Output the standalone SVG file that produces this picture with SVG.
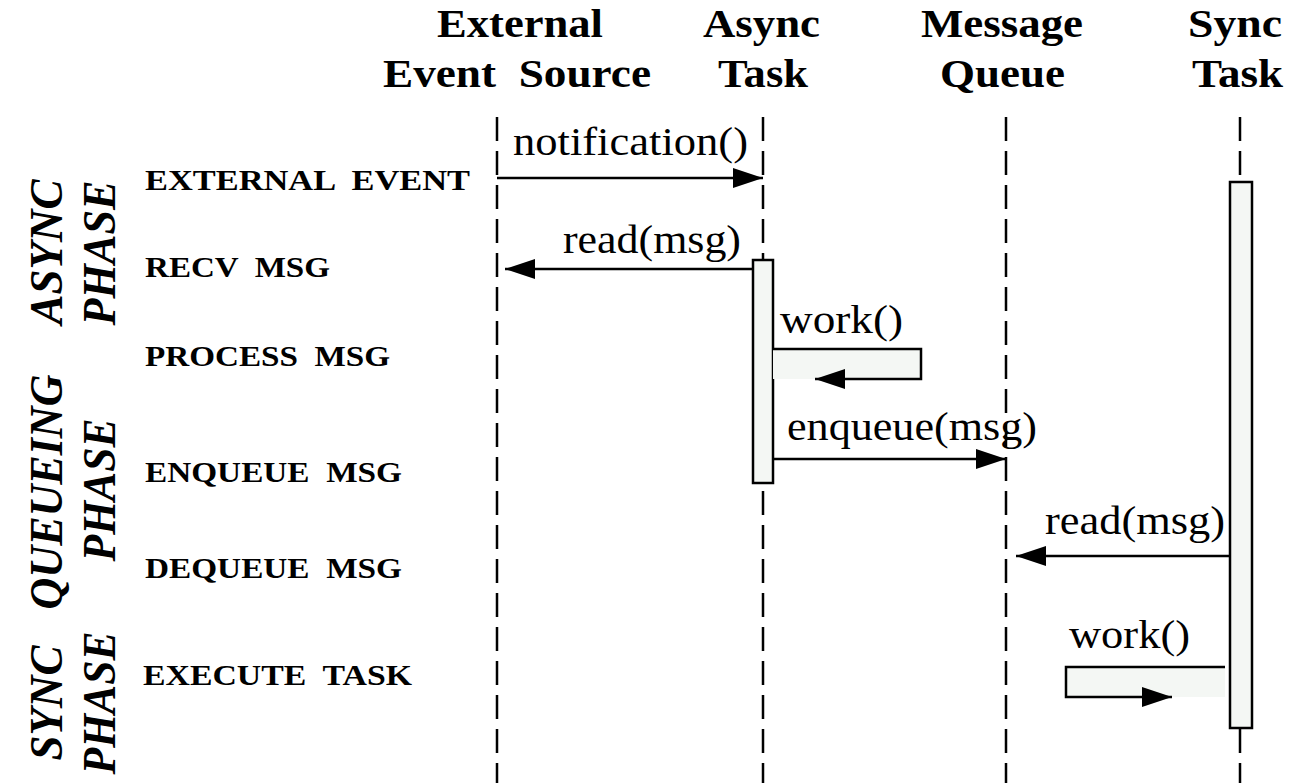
<svg xmlns="http://www.w3.org/2000/svg" width="1291" height="783" viewBox="0 0 1291 783">
  <style>
    .hdr { font-family: "Liberation Serif", "Times New Roman", serif; font-weight: bold; font-size: 40px; fill: #000; white-space: pre; }
    .msg { font-family: "Liberation Serif", "Times New Roman", serif; font-size: 40px; fill: #000; }
    .step { font-family: "Liberation Serif", "Times New Roman", serif; font-weight: bold; font-size: 30px; fill: #000; white-space: pre; }
    .phase { font-family: "Liberation Serif", "Times New Roman", serif; font-weight: bold; font-style: italic; font-size: 46px; fill: #000; text-anchor: middle; }
    .life { stroke: #000; stroke-width: 2.5; stroke-dasharray: 24 10; fill: none; }
    .act { fill: #f4f7f4; stroke: #000; stroke-width: 2.5; }
    .arrow { stroke: #000; stroke-width: 2.5; fill: none; }
    .loop { fill: #f4f7f4; stroke: none; }
  </style>
  <defs>
    <marker id="head" viewBox="0 0 30 20" refX="30" refY="10" markerWidth="30" markerHeight="20" markerUnits="userSpaceOnUse" orient="auto">
      <path d="M0,0 L30,10 L0,20 Z" fill="#000"/>
    </marker>
  </defs>
  <rect width="1291" height="783" fill="#fff"/>

  <!-- phase labels (rotated) -->
  <g id="phases">
    <text class="phase" transform="translate(62,252) rotate(-90)" textLength="145" lengthAdjust="spacingAndGlyphs">ASYNC</text>
    <text class="phase" transform="translate(115,253) rotate(-90)" textLength="145" lengthAdjust="spacingAndGlyphs">PHASE</text>
    <text class="phase" transform="translate(62,492) rotate(-90)" textLength="235" lengthAdjust="spacingAndGlyphs">QUEUEING</text>
    <text class="phase" transform="translate(115,490) rotate(-90)" textLength="143" lengthAdjust="spacingAndGlyphs">PHASE</text>
    <text class="phase" transform="translate(62,703) rotate(-90)" textLength="115" lengthAdjust="spacingAndGlyphs">SYNC</text>
    <text class="phase" transform="translate(115,703) rotate(-90)" textLength="143" lengthAdjust="spacingAndGlyphs">PHASE</text>
  </g>

  <!-- step labels -->
  <g id="steps">
    <text class="step" x="145" y="190" textLength="325" lengthAdjust="spacingAndGlyphs">EXTERNAL  EVENT</text>
    <text class="step" x="145" y="277" textLength="185" lengthAdjust="spacingAndGlyphs">RECV  MSG</text>
    <text class="step" x="145" y="366" textLength="245" lengthAdjust="spacingAndGlyphs">PROCESS  MSG</text>
    <text class="step" x="145" y="482" textLength="257" lengthAdjust="spacingAndGlyphs">ENQUEUE  MSG</text>
    <text class="step" x="145" y="578" textLength="257" lengthAdjust="spacingAndGlyphs">DEQUEUE  MSG</text>
    <text class="step" x="143" y="685" textLength="269" lengthAdjust="spacingAndGlyphs">EXECUTE  TASK</text>
  </g>

  <!-- participants -->
  <g id="external-source">
    <text class="hdr" x="437" y="37" textLength="166" lengthAdjust="spacingAndGlyphs">External</text>
    <text class="hdr" x="383" y="87" textLength="268" lengthAdjust="spacingAndGlyphs">Event  Source</text>
    <line class="life" x1="497" y1="117" x2="497" y2="783"/>
  </g>
  <g id="async-task">
    <text class="hdr" x="703" y="37" textLength="117" lengthAdjust="spacingAndGlyphs">Async</text>
    <text class="hdr" x="718" y="87" textLength="90" lengthAdjust="spacingAndGlyphs">Task</text>
    <line class="life" x1="763" y1="117" x2="763" y2="783"/>
    <rect class="act" x="753" y="260" width="20" height="223"/>
  </g>
  <g id="message-queue">
    <text class="hdr" x="921" y="37" textLength="162" lengthAdjust="spacingAndGlyphs">Message</text>
    <text class="hdr" x="940" y="87" textLength="125" lengthAdjust="spacingAndGlyphs">Queue</text>
    <line class="life" x1="1006" y1="117" x2="1006" y2="783"/>
  </g>
  <g id="sync-task">
    <text class="hdr" x="1188" y="37" textLength="94" lengthAdjust="spacingAndGlyphs">Sync</text>
    <text class="hdr" x="1192" y="87" textLength="91" lengthAdjust="spacingAndGlyphs">Task</text>
    <line class="life" x1="1240" y1="117" x2="1240" y2="783"/>
    <rect class="act" x="1230" y="182" width="22" height="546"/>
  </g>

  <!-- messages -->
  <g id="connectors">
    <text class="msg" x="513" y="155" textLength="235" lengthAdjust="spacingAndGlyphs">notification()</text>
    <line class="arrow" x1="497" y1="178" x2="763" y2="178" marker-end="url(#head)"/>

    <text class="msg" x="563" y="253" textLength="178" lengthAdjust="spacingAndGlyphs">read(msg)</text>
    <line class="arrow" x1="753" y1="269" x2="505" y2="269" marker-end="url(#head)"/>

    <text class="msg" x="780" y="333" textLength="123" lengthAdjust="spacingAndGlyphs">work()</text>
    <rect class="loop" x="773" y="349" width="148" height="30"/>
    <polyline class="arrow" points="773,349 921,349 921,379 815,379" marker-end="url(#head)"/>

    <text class="msg" x="787" y="440" textLength="250" lengthAdjust="spacingAndGlyphs">enqueue(msg)</text>
    <line class="arrow" x1="773" y1="459" x2="1006" y2="459" marker-end="url(#head)"/>

    <text class="msg" x="1045" y="534" textLength="180" lengthAdjust="spacingAndGlyphs">read(msg)</text>
    <line class="arrow" x1="1230" y1="556" x2="1016" y2="556" marker-end="url(#head)"/>

    <text class="msg" x="1069" y="648" textLength="121" lengthAdjust="spacingAndGlyphs">work()</text>
    <rect class="loop" x="1066" y="667" width="159" height="30"/>
    <polyline class="arrow" points="1225,667 1066,667 1066,697 1172,697" marker-end="url(#head)"/>
  </g>
</svg>
